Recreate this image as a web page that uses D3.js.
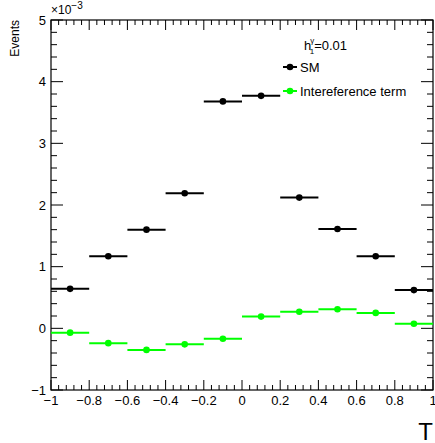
<!DOCTYPE html>
<html><head><meta charset="utf-8">
<script src="https://cdn.jsdelivr.net/npm/d3@7"></script>
<style>body{margin:0;background:#fff}svg{display:block;font-family:"Liberation Sans",Arial,sans-serif}</style>
</head><body><div id="c"></div>
<script>
const binCenters = [-0.9,-0.7,-0.5,-0.3,-0.1,0.1,0.3,0.5,0.7,0.9];
const smValues = [0.64,1.17,1.60,2.19,3.68,3.77,2.12,1.61,1.17,0.62];
const interfValues = [-0.07,-0.24,-0.35,-0.26,-0.17,0.19,0.27,0.31,0.25,0.075];
const xTicks = [-1,-0.8,-0.6,-0.4,-0.2,0,0.2,0.4,0.6,0.8,1];
const yTicks = [-1,0,1,2,3,4,5];
const binWidth = 0.2;

const W=435,H=443;
const L=51,R=433,T=20,B=390;
const svg=d3.select("#c").append("svg").attr("width",W).attr("height",H);
const x=d3.scaleLinear().domain([-1,1]).range([L,R]);
const y=d3.scaleLinear().domain([-1,5]).range([B,T]);

// frame
svg.append("rect").attr("x",L).attr("y",T).attr("width",R-L).attr("height",B-T)
  .attr("fill","none").attr("stroke","#000").attr("stroke-width",1.2);

const fmt = v => v===0?"0":(v<0?"\u2212"+String(Math.abs(v)).replace(/^0/,"0"):String(v));

// x ticks
const xMinor = d3.range(-1,1.0001,0.04);
const gx = svg.append("g");
xMinor.forEach(v=>{
  const major = xTicks.some(t=>Math.abs(t-v)<1e-6);
  const len = major?10:5;
  gx.append("line").attr("x1",x(v)).attr("x2",x(v)).attr("y1",B).attr("y2",B-len).attr("stroke","#000");
  gx.append("line").attr("x1",x(v)).attr("x2",x(v)).attr("y1",T).attr("y2",T+len).attr("stroke","#000");
});
xTicks.forEach(v=>{
  svg.append("text").attr("x",x(v)).attr("y",405).attr("text-anchor","middle")
    .attr("font-size",13).text(fmt(v));
});

// y ticks
const yMinor = d3.range(-1,5.0001,0.2);
const gy = svg.append("g");
yMinor.forEach(v=>{
  const major = yTicks.some(t=>Math.abs(t-v)<1e-6);
  const len = major?12:6;
  gy.append("line").attr("x1",L).attr("x2",L+len).attr("y1",y(v)).attr("y2",y(v)).attr("stroke","#000");
  gy.append("line").attr("x1",R).attr("x2",R-len).attr("y1",y(v)).attr("y2",y(v)).attr("stroke","#000");
});
yTicks.forEach(v=>{
  svg.append("text").attr("x",46).attr("y",y(v)+4.5).attr("text-anchor","end")
    .attr("font-size",13).text(fmt(v));
});

// exponent
const ex = svg.append("text").attr("x",51).attr("y",14).attr("font-size",12);
ex.append("tspan").text("\u00d710");
ex.append("tspan").attr("dy",-5).attr("font-size",10).text("\u22123");

// axis titles
svg.append("text").attr("transform","translate(19,20) rotate(-90)").attr("text-anchor","end")
  .attr("font-size",12).text("Events");
svg.append("text").attr("x",433).attr("y",440).attr("text-anchor","end").attr("font-size",24).text("T");

// series
function drawSeries(vals,color){
  const g=svg.append("g");
  g.selectAll("line").data(binCenters).enter().append("line")
    .attr("x1",d=>x(d-binWidth/2)).attr("x2",d=>x(d+binWidth/2))
    .attr("y1",(d,i)=>y(vals[i])).attr("y2",(d,i)=>y(vals[i]))
    .attr("stroke",color).attr("stroke-width",2);
  g.selectAll("circle").data(binCenters).enter().append("circle")
    .attr("cx",d=>x(d)).attr("cy",(d,i)=>y(vals[i])).attr("r",3.3).attr("fill",color);
}
drawSeries(smValues,"#000");
drawSeries(interfValues,"#00ff00");

// legend
const h = svg.append("text").attr("x",304).attr("y",50).attr("font-size",13);
h.append("tspan").text("h");
h.append("tspan").attr("dx",-1).attr("dy",-7).attr("font-size",8).text("\u03b3");
h.append("tspan").attr("dx",-4.5).attr("dy",11).attr("font-size",8).text("1");
h.append("tspan").attr("dy",-4).text("=0.01");

function legItem(yy,color,label){
  svg.append("line").attr("x1",283).attr("x2",297).attr("y1",yy).attr("y2",yy).attr("stroke",color).attr("stroke-width",2);
  svg.append("circle").attr("cx",290).attr("cy",yy).attr("r",3.3).attr("fill",color);
  svg.append("text").attr("x",300).attr("y",yy+5).attr("font-size",13).text(label);
}
legItem(67,"#000","SM");
legItem(91,"#00ff00","Intereference term");
</script></body></html>
